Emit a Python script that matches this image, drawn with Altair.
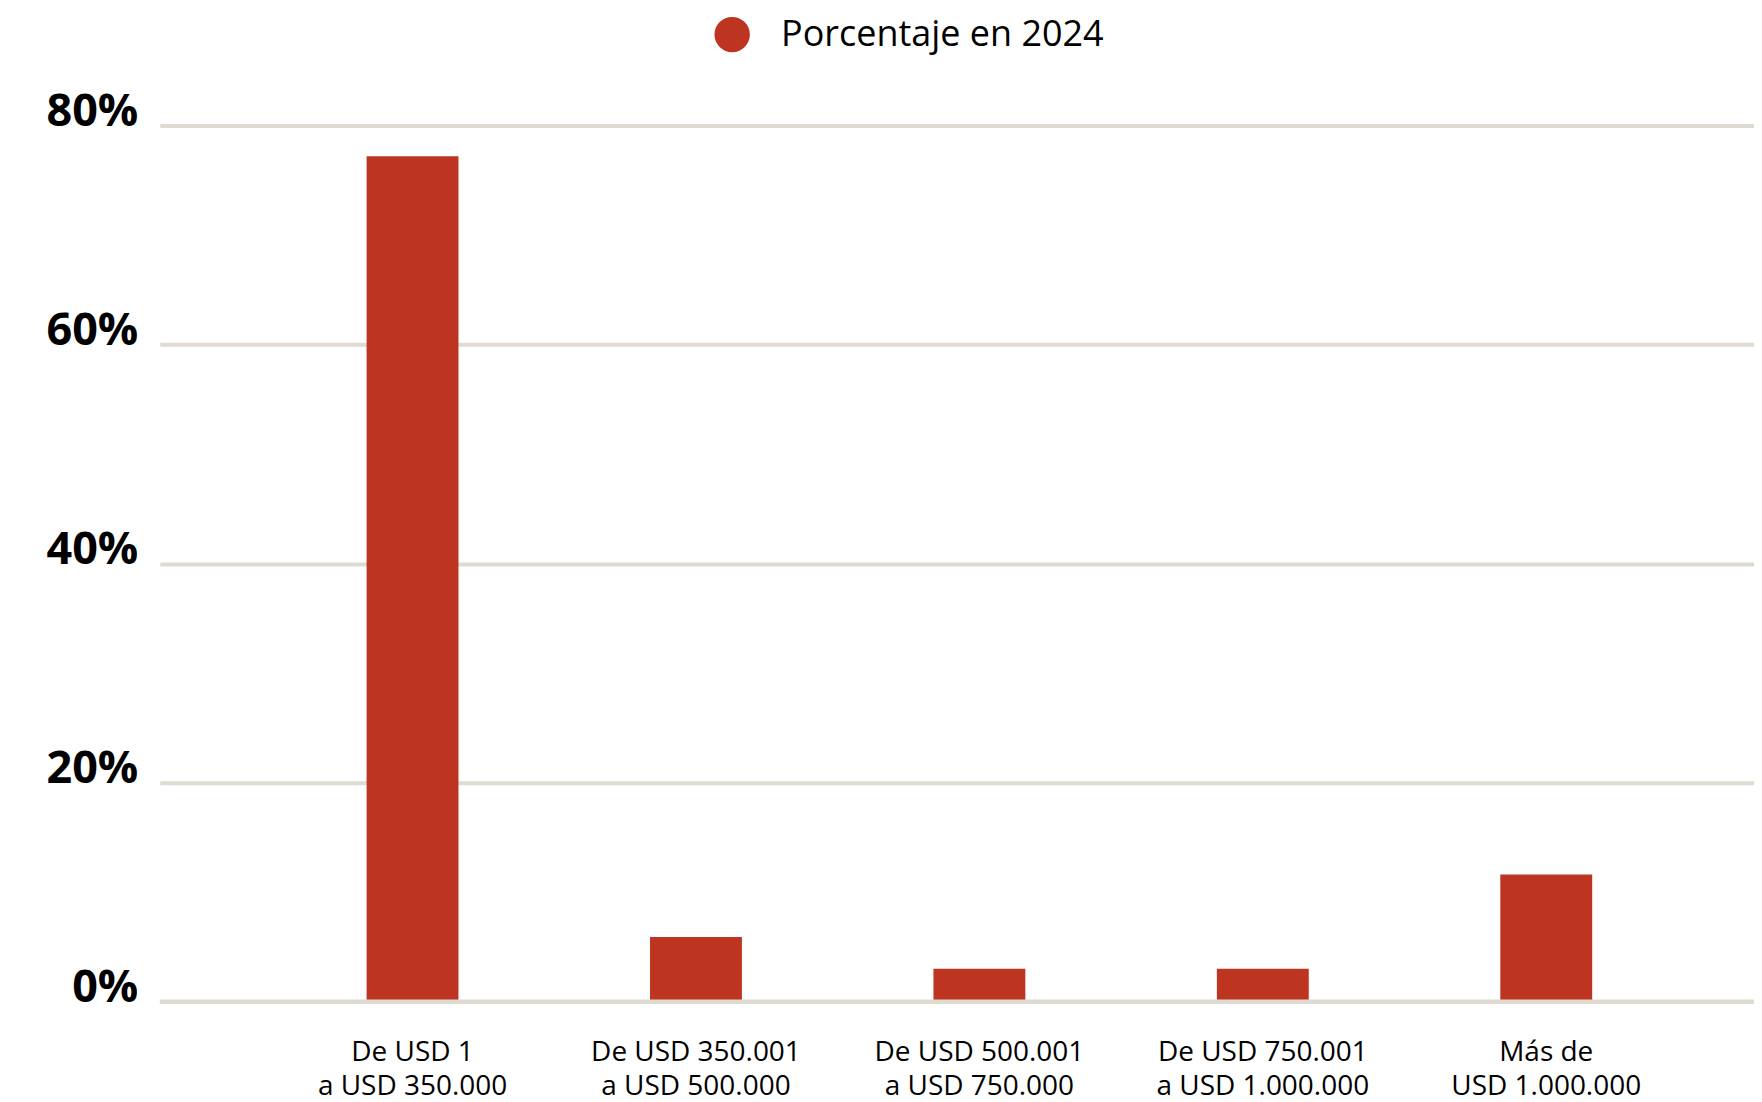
import altair as alt
import pandas as pd

categories = [
    "De USD 1\na USD 350.000",
    "De USD 350.001\na USD 500.000",
    "De USD 500.001\na USD 750.000",
    "De USD 750.001\na USD 1.000.000",
    "Más de\nUSD 1.000.000",
]
values = [77.2, 5.9, 3.0, 3.0, 11.6]
series_name = "Porcentaje en 2024"
y_ticks = [0, 20, 40, 60, 80]

BAR = "#BD3421"
GRID = "#DFDBD0"
FONT = "Open Sans"

df = pd.DataFrame({"cat": categories, "val": values, "serie": [series_name] * len(categories)})
zero = pd.DataFrame({"y0": [0]})

y_axis = alt.Axis(
    values=y_ticks,
    labelExpr="datum.value + '%'",
    labelFont=FONT,
    labelFontSize=45,
    labelFontWeight="bold",
    labelColor="#000000",
    labelBaseline="alphabetic",
    labelAlign="right",
    labelPadding=22,
    labelLimit=0,
    ticks=False,
    tickSize=0,
    domain=False,
    grid=True,
    gridColor=GRID,
    gridWidth=4,
)
y_scale = alt.Scale(domain=[0, 80], nice=False)

bars = alt.Chart(df).mark_bar(color=BAR).encode(
    x=alt.X(
        "cat:N",
        sort=categories,
        title=None,
        scale=alt.Scale(paddingInner=0.6758, paddingOuter=0.6502, align=0.561),
        axis=alt.Axis(
            labelAngle=0,
            labelExpr="split(datum.label, '\\n')",
            labelFont=FONT,
            labelFontSize=28,
            labelColor="#000000",
            labelLineHeight=34.5,
            labelPadding=37,
            labelLimit=0,
            ticks=False,
            tickSize=0,
            domain=False,
            grid=False,
        ),
    ),
    y=alt.Y("val:Q", title=None, scale=y_scale, axis=y_axis),
    color=alt.Color(
        "serie:N",
        scale=alt.Scale(domain=[series_name], range=[BAR]),
        legend=alt.Legend(
            title=None,
            orient="none",
            legendX=555,
            legendY=-109,
            symbolType="circle",
            symbolSize=1257,
            symbolStrokeWidth=0,
            labelFont=FONT,
            labelFontSize=36,
            labelColor="#000000",
            labelOffset=31,
            labelLimit=0,
            padding=0,
        ),
    ),
)

baseline = alt.Chart(zero).mark_rule(color=GRID, strokeWidth=4).encode(
    y=alt.Y("y0:Q", title=None, scale=y_scale, axis=y_axis)
)

chart = (
    alt.layer(bars, baseline)
    .properties(
        width=1596,
        height=877,
        background="#ffffff",
        autosize=alt.AutoSizeParams(type="none"),
        padding={"left": 152, "top": 117, "right": 0, "bottom": 100},
    )
    .configure_view(stroke="transparent", strokeWidth=0)
)

chart.save("out.html", embed_options={"renderer": "svg", "actions": False})
